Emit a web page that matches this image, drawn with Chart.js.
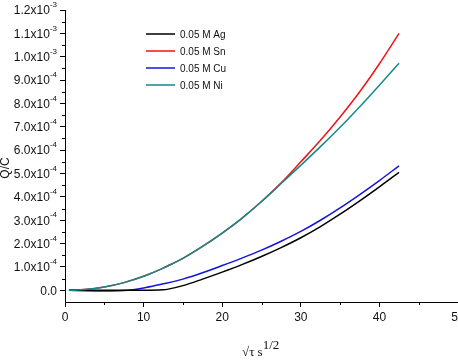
<!DOCTYPE html>
<html>
<head>
<meta charset="utf-8">
<script src="https://cdn.jsdelivr.net/npm/chart.js@4"></script>
<style>
  html, body { margin: 0; padding: 0; background: #fff; overflow: hidden; }
</style>
</head>
<body>
<canvas id="qc" width="480" height="360"></canvas>
<script>
// sqrt(t) values, s^1/2
const xs = [0.5, 2.5, 5, 7.5, 10, 12.5, 13, 15, 17.5, 20, 22.5, 25, 27.5, 30, 32.5, 35, 37.5, 40, 42.5];

// Q/C, units of 1e-4
const agVals = [0, 0, 0, 0, 0, 0.02, 0.04, 0.2, 0.48, 0.78, 1.1, 1.45, 1.83, 2.25, 2.73, 3.26, 3.83, 4.43, 5.05];
const snVals = [0, 0.03, 0.14, 0.33, 0.6, 0.95, 1.03, 1.37, 1.88, 2.45, 3.08, 3.8, 4.6, 5.5, 6.42, 7.42, 8.5, 9.7, 11.0];
const cuVals = [0, -0.02, -0.03, -0.01, 0.1, 0.28, 0.315, 0.48, 0.75, 1.06, 1.38, 1.72, 2.1, 2.52, 3.0, 3.53, 4.1, 4.7, 5.33];
const niVals = [0, 0.03, 0.14, 0.33, 0.6, 0.95, 1.03, 1.37, 1.88, 2.45, 3.08, 3.8, 4.57, 5.35, 6.15, 6.98, 7.86, 8.78, 9.72];

const seriesLabels = ["0.05 M Ag", "0.05 M Sn", "0.05 M Cu", "0.05 M Ni"];
const seriesColors = ["#000000", "#ec1515", "#1414dc", "#128a8a"];

const yTickValues = [0, 1e-4, 2e-4, 3e-4, 4e-4, 5e-4, 6e-4, 7e-4, 8e-4, 9e-4, 1.0e-3, 1.1e-3, 1.2e-3];
const yTickMain = ["0.0", "1.0x10", "2.0x10", "3.0x10", "4.0x10", "5.0x10", "6.0x10", "7.0x10", "8.0x10", "9.0x10", "1.0x10", "1.1x10", "1.2x10"];
const yTickExp = ["", "-4", "-4", "-4", "-4", "-4", "-4", "-4", "-4", "-4", "-3", "-3", "-3"];
const yMinor = [0.5e-4, 1.5e-4, 2.5e-4, 3.5e-4, 4.5e-4, 5.5e-4, 6.5e-4, 7.5e-4, 8.5e-4, 9.5e-4, 1.05e-3, 1.15e-3];
const xMinor = [5, 15, 25, 35, 45];

function toPoints(vals) {
  return vals.map((v, i) => ({ x: xs[i], y: v * 1e-4 }));
}

const allVals = [agVals, snVals, cuVals, niVals];
const datasets = allVals.map((vals, i) => ({
  label: seriesLabels[i],
  data: toPoints(vals),
  borderColor: seriesColors[i],
  backgroundColor: seriesColors[i],
  borderWidth: 1.5,
  pointRadius: 0,
  cubicInterpolationMode: "monotone",
  order: i == 3 ? 0 : i + 1,
}));

const sans = "'Liberation Sans', Arial, sans-serif";
const serif = "'Liberation Serif', 'Times New Roman', serif";

// draws minor ticks, y tick labels with exponents, axis titles and the legend
const extras = {
  id: "extras",
  afterDraw(chart) {
    const ctx = chart.ctx;
    const xS = chart.scales.x;
    const yS = chart.scales.y;
    const area = chart.chartArea;
    ctx.save();
    ctx.strokeStyle = "#000";
    ctx.lineWidth = 1;
    ctx.beginPath();
    for (let v of xMinor) {
      const px = Math.round(xS.getPixelForValue(v)) + 0.5;
      ctx.moveTo(px, area.bottom);
      ctx.lineTo(px, area.bottom + 3);
    }
    for (let v of yMinor) {
      const py = Math.round(yS.getPixelForValue(v)) + 0.5;
      ctx.moveTo(area.left, py);
      ctx.lineTo(area.left - 3, py);
    }
    ctx.stroke();

    // y tick labels
    ctx.fillStyle = "#111";
    ctx.textBaseline = "middle";
    const right = area.left - 8;
    yTickValues.forEach((v, i) => {
      const py = yS.getPixelForValue(v);
      ctx.font = "8px " + sans;
      const ew = yTickExp[i] ? ctx.measureText(yTickExp[i]).width : 0;
      ctx.textAlign = "right";
      if (ew) ctx.fillText(yTickExp[i], right, py - 5);
      ctx.font = "12px " + sans;
      ctx.fillText(yTickMain[i], right - ew, py + 1);
    });

    // y title
    ctx.save();
    ctx.translate(9, 168);
    ctx.rotate(-Math.PI / 2);
    ctx.textAlign = "center";
    ctx.textBaseline = "alphabetic";
    ctx.font = "12px " + sans;
    ctx.fillText("Q/C", 0, 0);
    ctx.restore();

    // x title
    ctx.textAlign = "left";
    ctx.textBaseline = "alphabetic";
    ctx.font = "13px " + serif;
    const base = "\u221A\u03C4 s";
    const bw = ctx.measureText(base).width;
    ctx.fillText(base, 242, 356);
    ctx.fillText("1/2", 242 + bw, 349);

    // legend
    ctx.font = "10px " + sans;
    ctx.textBaseline = "middle";
    chart.data.datasets.forEach((ds, i) => {
      const ly = 34 + i * 17;
      ctx.strokeStyle = ds.borderColor;
      ctx.lineWidth = 1.5;
      ctx.beginPath();
      ctx.moveTo(146, ly);
      ctx.lineTo(175, ly);
      ctx.stroke();
      ctx.fillStyle = "#111";
      ctx.fillText(ds.label, 180, ly + 1);
    });
    ctx.restore();
  },
};

const config = {
  type: "line",
  data: { datasets: datasets },
  options: {
    responsive: false,
    animation: false,
    layout: { padding: { top: 10, right: 22, left: 0, bottom: 0 } },
    plugins: {
      legend: { display: false },
      tooltip: { enabled: false },
    },
    scales: {
      x: {
        type: "linear",
        min: 0,
        max: 50,
        ticks: {
          stepSize: 10,
          color: "#111",
          font: { family: sans, size: 12 },
          padding: 3,
          maxRotation: 0,
        },
        grid: { drawOnChartArea: false, tickLength: 5, color: "#000" },
        border: { color: "#000", width: 1 },
        afterFit: (scale) => { scale.height = 58; },
      },
      y: {
        type: "linear",
        min: -0.5e-4,
        max: 1.2e-3,
        ticks: { display: false },
        grid: { drawOnChartArea: false, tickLength: 5, color: "#000" },
        border: { color: "#000", width: 1 },
        afterBuildTicks: (scale) => {
          scale.ticks = yTickValues.map((v) => ({ value: v }));
        },
        afterFit: (scale) => { scale.width = 65; },
      },
    },
  },
  plugins: [extras],
};

const qcChart = new Chart(document.getElementById("qc"), config);
</script>
</body>
</html>
